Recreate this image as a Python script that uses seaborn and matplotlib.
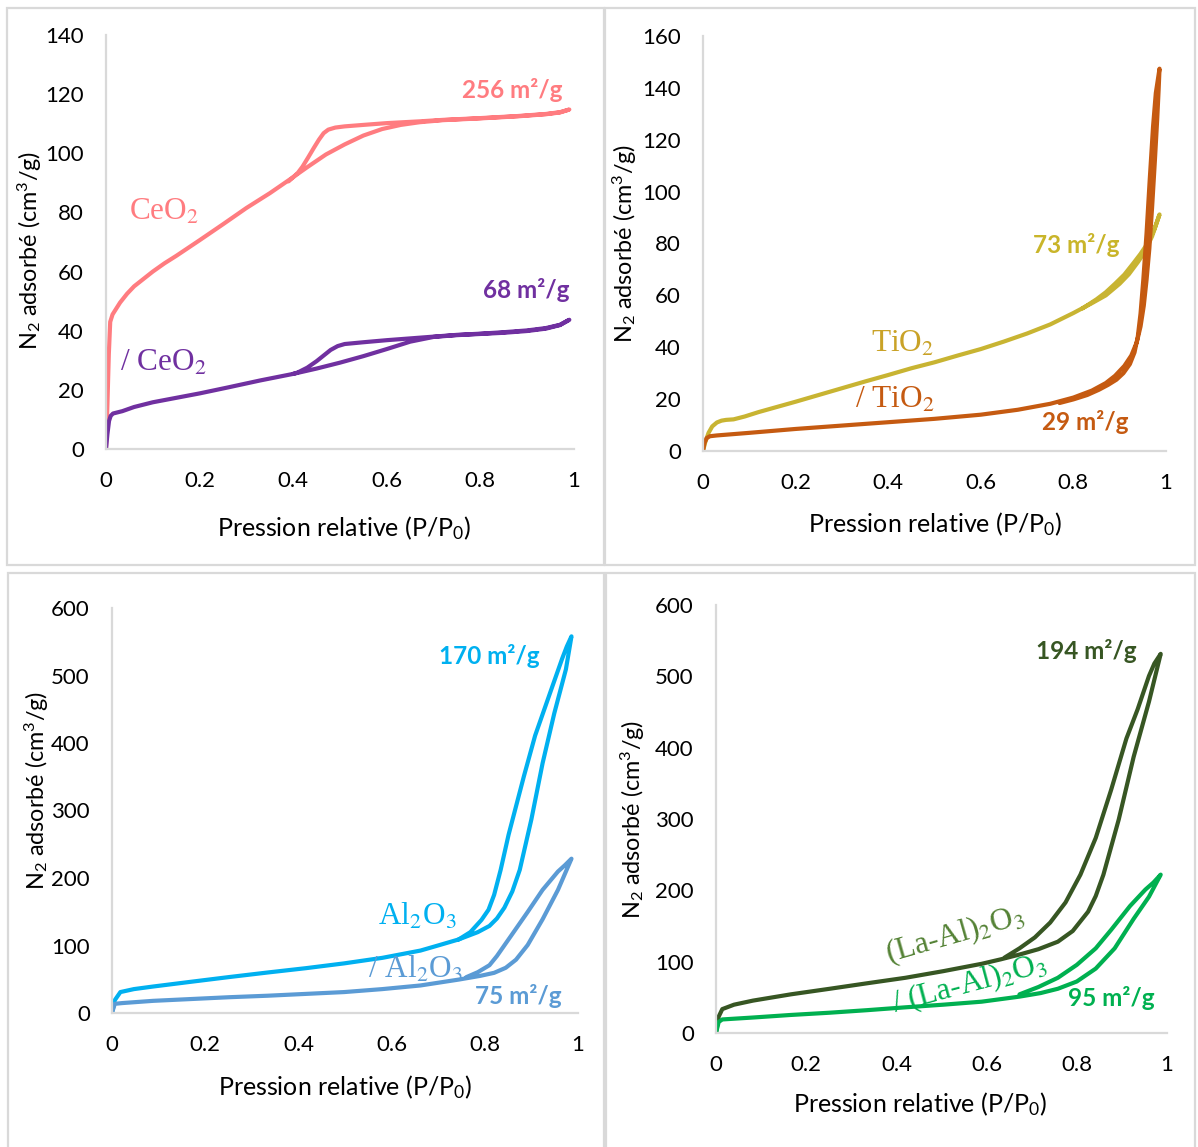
import numpy as np
import pandas as pd
import matplotlib
matplotlib.use("Agg")
import matplotlib.pyplot as plt
import seaborn as sns
from matplotlib.patches import Rectangle

# ---------------- data ----------------
x_ticks = [0, 0.2, 0.4, 0.6, 0.8, 1]
x_tick_labels = ["0", "0.2", "0.4", "0.6", "0.8", "1"]

# Panel 1 : CeO2 (adsorption / desorption branches)
ceo2_ads_x = [0, 0.003, 0.006, 0.009, 0.014, 0.02, 0.03, 0.045, 0.06, 0.08, 0.1, 0.125, 0.15, 0.2, 0.25, 0.3, 0.35, 0.395, 0.43, 0.47, 0.51, 0.55, 0.59, 0.63, 0.67, 0.72, 0.8, 0.88, 0.94, 0.97, 0.99]
ceo2_ads_y = [0, 15, 32, 43, 45.5, 47, 49.5, 52.5, 55, 57.5, 60, 62.8, 65.3, 70.6, 76, 81.5, 86.5, 91.4, 95.3, 99.6, 103, 106, 108.2, 109.6, 110.5, 111.2, 111.8, 112.5, 113.2, 113.8, 114.8]
ceo2_des_x = [0.99, 0.97, 0.94, 0.88, 0.8, 0.72, 0.67, 0.6, 0.55, 0.51, 0.49, 0.475, 0.465, 0.455, 0.444, 0.432, 0.42, 0.41, 0.4, 0.39]
ceo2_des_y = [114.8, 113.9, 113.3, 112.6, 111.9, 111.3, 110.8, 110.2, 109.6, 109.1, 108.7, 108.0, 106.8, 104.6, 101.8, 98.6, 95.5, 93.4, 91.9, 90.5]

mceo2_ads_x = [0, 0.003, 0.0065, 0.01, 0.015, 0.025, 0.035, 0.06, 0.1, 0.15, 0.2, 0.26, 0.33, 0.4, 0.45, 0.5, 0.55, 0.6, 0.65, 0.7, 0.75, 0.8, 0.85, 0.9, 0.94, 0.97, 0.99]
mceo2_ads_y = [0, 5, 9.5, 11.2, 12, 12.4, 12.8, 14.2, 15.8, 17.3, 18.8, 20.8, 23.2, 25.4, 27.2, 29.2, 31.4, 33.8, 36.3, 37.9, 38.5, 38.9, 39.3, 39.9, 40.7, 41.9, 43.7]
mceo2_des_x = [0.99, 0.97, 0.94, 0.9, 0.85, 0.8, 0.75, 0.7, 0.65, 0.6, 0.55, 0.51, 0.495, 0.48, 0.465, 0.45, 0.43, 0.41, 0.4]
mceo2_des_y = [43.7, 42.0, 40.9, 40.1, 39.5, 39.0, 38.6, 38.0, 37.4, 36.8, 36.1, 35.5, 34.8, 33.5, 31.6, 29.7, 27.5, 25.9, 25.4]

# Panel 2 : TiO2
tio2_ads_x = [0, 0.005, 0.012, 0.02, 0.03, 0.04, 0.05, 0.066, 0.09, 0.12, 0.16, 0.2, 0.25, 0.3, 0.35, 0.4, 0.45, 0.5, 0.55, 0.6, 0.65, 0.7, 0.75, 0.8, 0.84, 0.87, 0.9, 0.92, 0.94, 0.955, 0.97, 0.986]
tio2_ads_y = [0, 3.5, 7, 9.5, 11, 11.7, 12, 12.2, 13.3, 15, 17, 19, 21.6, 24.2, 26.8, 29.3, 31.9, 34.2, 36.8, 39.3, 42.2, 45.3, 48.8, 53.2, 57, 60, 64.5, 68.2, 73, 77, 82.8, 91.2]
tio2_des_x = [0.986, 0.975, 0.96, 0.945, 0.93, 0.91, 0.89, 0.87, 0.85, 0.82]
tio2_des_y = [91.2, 85.5, 80, 76, 72.5, 68, 64.5, 61.2, 58.5, 55]

mtio2_ads_x = [0, 0.003, 0.008, 0.015, 0.03, 0.1, 0.2, 0.3, 0.4, 0.5, 0.6, 0.68, 0.75, 0.8, 0.84, 0.87, 0.89, 0.91, 0.925, 0.937, 0.945, 0.952, 0.958, 0.964, 0.97, 0.976, 0.981, 0.984, 0.986]
mtio2_ads_y = [0, 3, 5, 5.7, 6, 7, 8.5, 9.8, 11.1, 12.4, 14, 15.9, 18.2, 20.6, 23.3, 26.2, 29, 32.8, 36.8, 42, 48, 56, 66, 78, 94, 112, 128, 139, 147.4]
mtio2_des_x = [0.986, 0.978, 0.972, 0.965, 0.958, 0.951, 0.945, 0.939, 0.932, 0.922, 0.908, 0.893, 0.875, 0.855, 0.83, 0.8, 0.77]
mtio2_des_y = [147.4, 138, 125, 105, 84, 66, 53, 44, 38, 33.5, 30, 27.5, 25.5, 23.6, 21.6, 19.9, 18.5]

# Panel 3 : Al2O3
al_ads_x = [0, 0.006, 0.018, 0.047, 0.088, 0.17, 0.252, 0.334, 0.416, 0.498, 0.58, 0.662, 0.703, 0.744, 0.785, 0.81, 0.826, 0.842, 0.859, 0.875, 0.9, 0.924, 0.949, 0.974, 0.986]
al_ads_y = [0, 19, 31, 35.4, 39.2, 46.3, 53.3, 60, 66.4, 73.5, 81.7, 92.5, 100.7, 109, 119.8, 129, 140, 156, 180, 212, 287, 370, 443.7, 509, 558]
al_des_x = [0.986, 0.976, 0.966, 0.941, 0.908, 0.884, 0.851, 0.834, 0.82, 0.808, 0.793, 0.769, 0.744]
al_des_y = [558, 543, 525, 476, 411, 351, 264, 212, 175, 153, 138, 119.8, 109]

mal_ads_x = [0, 0.006, 0.022, 0.088, 0.17, 0.252, 0.334, 0.416, 0.498, 0.58, 0.662, 0.744, 0.79, 0.82, 0.845, 0.867, 0.892, 0.924, 0.957, 0.986]
mal_ads_y = [0, 13.6, 14.7, 18, 20.7, 23.4, 25.6, 28.3, 31, 35.4, 40.8, 49.5, 55, 59.5, 67, 79, 100.7, 138.8, 182.4, 228.6]
mal_des_x = [0.986, 0.972, 0.957, 0.924, 0.892, 0.859, 0.826, 0.81, 0.785, 0.76]
mal_des_y = [228.6, 219, 209.6, 182.4, 149.7, 117, 84.4, 70.8, 60.5, 53]

# Panel 4 : (La-Al)2O3
la_ads_x = [0, 0.006, 0.014, 0.04, 0.082, 0.166, 0.251, 0.335, 0.42, 0.504, 0.589, 0.631, 0.673, 0.715, 0.758, 0.791, 0.825, 0.842, 0.859, 0.893, 0.926, 0.96, 0.986]
la_ads_y = [0, 23, 33.5, 39.7, 45.4, 54.2, 61.9, 69.7, 77.4, 86.7, 97, 103.2, 110, 117.5, 128, 143, 170, 192, 221.9, 299.3, 387, 464.4, 531.5]
la_des_x = [0.986, 0.972, 0.96, 0.935, 0.91, 0.876, 0.842, 0.808, 0.775, 0.741, 0.707, 0.673, 0.64]
la_des_y = [531.5, 518, 500.5, 454, 412.8, 340.6, 273.5, 221.9, 183, 154.8, 134, 118.7, 105.8]

mla_ads_x = [0, 0.006, 0.014, 0.082, 0.166, 0.251, 0.335, 0.42, 0.504, 0.589, 0.673, 0.72, 0.758, 0.8, 0.842, 0.884, 0.926, 0.96, 0.986]
mla_ads_y = [0, 15.5, 19, 21.7, 25.3, 28.4, 32, 36, 39.7, 43.9, 51, 56, 62, 72.2, 90.3, 118.7, 160, 191, 222]
mla_des_x = [0.986, 0.97, 0.952, 0.918, 0.876, 0.842, 0.8, 0.758, 0.715, 0.673]
mla_des_y = [222, 211, 201, 178, 144.5, 118.7, 95.5, 77.4, 64.5, 54.2]

# ---------------- style ----------------
sns.set_theme(style="white")
plt.rcParams['font.family'] = ['Lato', 'DejaVu Sans']
plt.rcParams['mathtext.fontset'] = 'custom'
plt.rcParams['mathtext.rm'] = 'Lato'
plt.rcParams['mathtext.it'] = 'Lato:italic'
plt.rcParams['mathtext.bf'] = 'Lato:bold'

W, H = 1198, 1147
fig = plt.figure(figsize=(W / 100, H / 100), dpi=100)
fig.patch.set_facecolor("white")

# panel frames (pixels: x0, y0_top, x1, y1_bottom)
frames = [(7, 8, 604, 565), (605, 8, 1195, 565), (8, 573, 604, 1150), (606, 573, 1195, 1150)]
for (x0, y0, x1, y1) in frames:
    fig.patches.append(Rectangle((x0 / W, 1 - y1 / H), (x1 - x0) / W, (y1 - y0) / H,
                                 transform=fig.transFigure, fill=False,
                                 edgecolor="#d9d9d9", lw=1.6, zorder=0))


def make_ax(left_px, right_px, bottom_px, top_px):
    return fig.add_axes([left_px / W, 1 - bottom_px / H,
                         (right_px - left_px) / W, (bottom_px - top_px) / H])


def loop(ax, ax_x, ax_y, dx, dy, color):
    df = pd.DataFrame({"x": list(ax_x) + list(dx), "y": list(ax_y) + list(dy)})
    sns.lineplot(data=df, x="x", y="y", sort=False, estimator=None, color=color,
                 lw=3.0, ax=ax)
    for ln in ax.lines:
        ln.set_solid_joinstyle("round")
        ln.set_solid_capstyle("round")


def style(ax, ymax, ystep, ylab_xy, xlab_xy):
    ax.set_xlim(0, 1)
    ax.set_ylim(0, ymax)
    ax.set_xticks(x_ticks)
    ax.set_xticklabels(x_tick_labels)
    ax.set_yticks(np.arange(0, ymax + 1, ystep))
    for s in ["top", "right"]:
        ax.spines[s].set_visible(False)
    for s in ["left", "bottom"]:
        ax.spines[s].set_color("#d9d9d9")
        ax.spines[s].set_linewidth(1.6)
    ax.tick_params(axis="both", length=0, labelsize=16, colors="black")
    ax.tick_params(axis="x", pad=16)
    ax.tick_params(axis="y", pad=16)
    ax.set_facecolor("none")
    ax.set_xlabel("Pression relative (P/P$_0$)", fontsize=18, color="black")
    ax.set_ylabel("N$_2$ adsorbé (cm$^3$/g)", fontsize=16.8, color="black")
    ax.yaxis.set_label_coords(*ylab_xy)
    ax.xaxis.set_label_coords(*xlab_xy)


serif = dict(fontfamily="Liberation Serif", math_fontfamily="stix", fontsize=22.5)
boldlab = dict(fontsize=17.5, fontweight="bold")

# ---- Panel 1 ----
ax1 = make_ax(106, 574, 449, 35)
loop(ax1, ceo2_ads_x, ceo2_ads_y, ceo2_des_x, ceo2_des_y, "#FF7C80")
loop(ax1, mceo2_ads_x, mceo2_ads_y, mceo2_des_x, mceo2_des_y, "#7030A0")
style(ax1, 140, 20, (-0.132, 0.48), (0.508, -0.158))
ax1.text(0.976, 121.5, "256 m²/g", color="#FF7C80", ha="right", va="center", **boldlab)
ax1.text(0.99, 53.8, "68 m²/g", color="#7030A0", ha="right", va="center", **boldlab)
ax1.text(0.049, 80, "CeO$_2$", color="#FF7C80", ha="left", va="center", **serif)
ax1.text(0.03, 29, "/ CeO$_2$", color="#7030A0", ha="left", va="center", **serif)

# ---- Panel 2 ----
ax2 = make_ax(703, 1166, 451, 36)
loop(ax2, tio2_ads_x, tio2_ads_y, tio2_des_x, tio2_des_y, "#C8B432")
loop(ax2, mtio2_ads_x, mtio2_ads_y, mtio2_des_x, mtio2_des_y, "#C55A11")
style(ax2, 160, 20, (-0.138, 0.50), (0.501, -0.142))
ax2.text(0.713, 79.4, "73 m²/g", color="#C9B52A", ha="left", va="center", **boldlab)
ax2.text(0.732, 11.2, "29 m²/g", color="#C55A11", ha="left", va="center", **boldlab)
ax2.text(0.363, 41, "TiO$_2$", color="#C9A227", ha="left", va="center", **serif)
ax2.text(0.328, 19.5, "/ TiO$_2$", color="#C55A11", ha="left", va="center", **serif)

# ---- Panel 3 ----
ax3 = make_ax(112, 578, 1013, 608)
loop(ax3, al_ads_x, al_ads_y, al_des_x, al_des_y, "#00B0F0")
loop(ax3, mal_ads_x, mal_ads_y, mal_des_x, mal_des_y, "#5B9BD5")
style(ax3, 600, 100, (-0.131, 0.55), (0.50, -0.148))
ax3.text(0.918, 529, "170 m²/g", color="#00B0F0", ha="right", va="center", **boldlab)
ax3.text(0.779, 25, "75 m²/g", color="#5B9BD5", ha="left", va="center", **boldlab)
ax3.text(0.571, 142, "Al$_2$O$_3$", color="#00B0F0", ha="left", va="center", **serif)
ax3.text(0.549, 64, "/ Al$_2$O$_3$", color="#5B9BD5", ha="left", va="center", **serif)

# ---- Panel 4 ----
ax4 = make_ax(716, 1167, 1033, 605)
loop(ax4, la_ads_x, la_ads_y, la_des_x, la_des_y, "#375623")
loop(ax4, mla_ads_x, mla_ads_y, mla_des_x, mla_des_y, "#00B050")
style(ax4, 600, 100, (-0.153, 0.50), (0.452, -0.133))
ax4.text(0.933, 535.5, "194 m²/g", color="#375623", ha="right", va="center", **boldlab)
ax4.text(0.78, 49, "95 m²/g", color="#00B050", ha="left", va="center", **boldlab)
ax4.text(0.53, 137, "(La-Al)$_2$O$_3$", color="#548235", ha="center", va="center",
         rotation=16, rotation_mode="anchor", **serif)
ax4.text(0.563, 68, "/ (La-Al)$_2$O$_3$", color="#00B050", ha="center", va="center",
         rotation=15, rotation_mode="anchor", **serif)

fig.savefig("out.png", dpi=100, facecolor="white")
